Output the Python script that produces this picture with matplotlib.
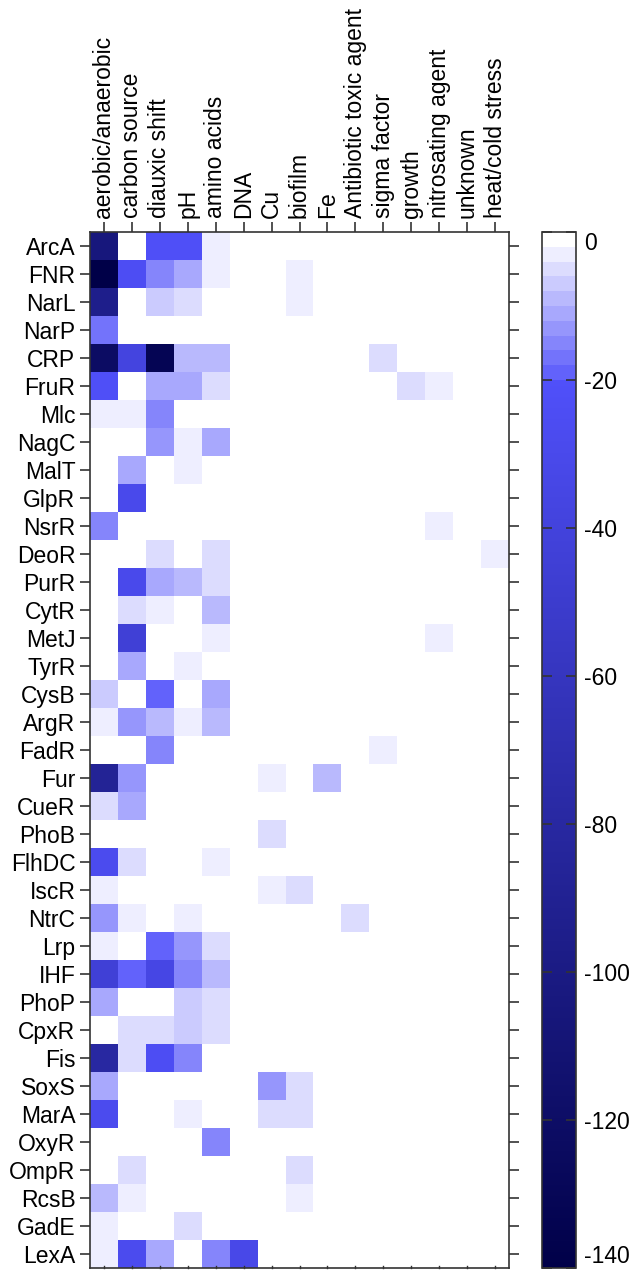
import numpy as np
import matplotlib
matplotlib.use("Agg")
import matplotlib.pyplot as plt
from matplotlib.colors import ListedColormap

plt.rcParams['font.family'] = ['Liberation Sans', 'DejaVu Sans']

regulators = ["ArcA", "FNR", "NarL", "NarP", "CRP", "FruR", "Mlc", "NagC", "MalT", "GlpR",
              "NsrR", "DeoR", "PurR", "CytR", "MetJ", "TyrR", "CysB", "ArgR", "FadR", "Fur",
              "CueR", "PhoB", "FlhDC", "IscR", "NtrC", "Lrp", "IHF", "PhoP", "CpxR", "Fis",
              "SoxS", "MarA", "OxyR", "OmpR", "RcsB", "GadE", "LexA"]

conditions = ["aerobic/anaerobic", "carbon source", "diauxic shift", "pH", "amino acids",
              "DNA", "Cu", "biofilm", "Fe", "Antibiotic toxic agent", "sigma factor",
              "growth", "nitrosating agent", "unknown", "heat/cold stress"]

# columns: aer, carb, diaux, pH, amino, DNA, Cu, biofilm, Fe, Antib, sigma, growth, nitros, unknown, heat
ArcA  = [-105,   0, -22, -22,  -3,   0,  0,  0,  0,  0,  0,  0,  0, 0, 0]
FNR   = [-140, -25, -15, -11,  -3,   0,  0, -3,  0,  0,  0,  0,  0, 0, 0]
NarL  = [ -95,   0,  -7,  -5,   0,   0,  0, -3,  0,  0,  0,  0,  0, 0, 0]
NarP  = [ -17,   0,   0,   0,   0,   0,  0,  0,  0,  0,  0,  0,  0, 0, 0]
CRP   = [-122, -38,-132,  -9,  -9,   0,  0,  0,  0,  0, -5,  0,  0, 0, 0]
FruR  = [ -22,   0, -11, -11,  -5,   0,  0,  0,  0,  0,  0, -5, -3, 0, 0]
Mlc   = [  -3,  -3, -15,   0,   0,   0,  0,  0,  0,  0,  0,  0,  0, 0, 0]
NagC  = [   0,   0, -13,  -3, -11,   0,  0,  0,  0,  0,  0,  0,  0, 0, 0]
MalT  = [   0, -11,   0,  -3,   0,   0,  0,  0,  0,  0,  0,  0,  0, 0, 0]
GlpR  = [   0, -30,   0,   0,   0,   0,  0,  0,  0,  0,  0,  0,  0, 0, 0]
NsrR  = [ -15,   0,   0,   0,   0,   0,  0,  0,  0,  0,  0,  0, -3, 0, 0]
DeoR  = [   0,   0,  -5,   0,  -5,   0,  0,  0,  0,  0,  0,  0,  0, 0, -3]
PurR  = [   0, -30, -11,  -9,  -5,   0,  0,  0,  0,  0,  0,  0,  0, 0, 0]
CytR  = [   0,  -5,  -3,   0,  -9,   0,  0,  0,  0,  0,  0,  0,  0, 0, 0]
MetJ  = [   0, -44,   0,   0,  -3,   0,  0,  0,  0,  0,  0,  0, -3, 0, 0]
TyrR  = [   0, -11,   0,  -3,   0,   0,  0,  0,  0,  0,  0,  0,  0, 0, 0]
CysB  = [  -7,   0, -19,   0, -11,   0,  0,  0,  0,  0,  0,  0,  0, 0, 0]
ArgR  = [  -3, -13,  -9,  -3,  -9,   0,  0,  0,  0,  0,  0,  0,  0, 0, 0]
FadR  = [   0,   0, -15,   0,   0,   0,  0,  0,  0,  0, -3,  0,  0, 0, 0]
Fur   = [ -88, -13,   0,   0,   0,   0, -3,  0, -9,  0,  0,  0,  0, 0, 0]
CueR  = [  -5, -11,   0,   0,   0,   0,  0,  0,  0,  0,  0,  0,  0, 0, 0]
PhoB  = [   0,   0,   0,   0,   0,   0, -5,  0,  0,  0,  0,  0,  0, 0, 0]
FlhDC = [ -28,  -5,   0,   0,  -3,   0,  0,  0,  0,  0,  0,  0,  0, 0, 0]
IscR  = [  -3,   0,   0,   0,   0,   0, -3, -5,  0,  0,  0,  0,  0, 0, 0]
NtrC  = [ -13,  -3,   0,  -3,   0,   0,  0,  0,  0, -5,  0,  0,  0, 0, 0]
Lrp   = [  -3,   0, -19, -13,  -5,   0,  0,  0,  0,  0,  0,  0,  0, 0, 0]
IHF   = [ -44, -19, -35, -15,  -9,   0,  0,  0,  0,  0,  0,  0,  0, 0, 0]
PhoP  = [ -11,   0,   0,  -7,  -5,   0,  0,  0,  0,  0,  0,  0,  0, 0, 0]
CpxR  = [   0,  -5,  -5,  -7,  -5,   0,  0,  0,  0,  0,  0,  0,  0, 0, 0]
Fis   = [ -80,  -5, -25, -15,   0,   0,  0,  0,  0,  0,  0,  0,  0, 0, 0]
SoxS  = [ -11,   0,   0,   0,   0,   0,-13, -5,  0,  0,  0,  0,  0, 0, 0]
MarA  = [ -28,   0,   0,  -3,   0,   0, -5, -5,  0,  0,  0,  0,  0, 0, 0]
OxyR  = [   0,   0,   0,   0, -15,   0,  0,  0,  0,  0,  0,  0,  0, 0, 0]
OmpR  = [   0,  -5,   0,   0,   0,   0,  0, -5,  0,  0,  0,  0,  0, 0, 0]
RcsB  = [  -9,  -3,   0,   0,   0,   0,  0, -3,  0,  0,  0,  0,  0, 0, 0]
GadE  = [  -3,   0,   0,  -5,   0,   0,  0,  0,  0,  0,  0,  0,  0, 0, 0]
LexA  = [  -3, -28, -11,   0, -15, -32,  0,  0,  0,  0,  0,  0,  0, 0, 0]

data = np.array([ArcA, FNR, NarL, NarP, CRP, FruR, Mlc, NagC, MalT, GlpR, NsrR, DeoR,
                 PurR, CytR, MetJ, TyrR, CysB, ArgR, FadR, Fur, CueR, PhoB, FlhDC, IscR,
                 NtrC, Lrp, IHF, PhoP, CpxR, Fis, SoxS, MarA, OxyR, OmpR, RcsB, GadE, LexA],
                dtype=float)

cbar_ticks = [0, -20, -40, -60, -80, -100, -120, -140]

# colormap: stepped white->blue for 0..-20, continuous blue->navy for -20..-140
white = np.array([1.0, 1.0, 1.0])
c20 = np.array([80, 80, 250]) / 255.0
c140 = np.array([0, 0, 72]) / 255.0


def color_at(v):
    if v >= -20:
        k = min(9, int(np.floor(-v / 2.0)))
        t = k / 10.0
        return white + t * (c20 - white)
    t = (-20 - v) / 120.0
    return c20 + t * (c140 - c20)


N = 1400
centers = -140 + (np.arange(N) + 0.5) * 140.0 / N
cmap = ListedColormap([color_at(v) for v in centers])

fig = plt.figure(figsize=(6.31, 12.76), dpi=100)
W, H = 631.0, 1276.0
ax = fig.add_axes([90 / W, (H - 1268) / H, 419 / W, 1036 / H])
cax = fig.add_axes([542 / W, (H - 1268) / H, 34 / W, 1036 / H])

nr, nc = data.shape
mesh = ax.pcolormesh(np.arange(nc + 1), np.arange(nr + 1), data, cmap=cmap,
                     vmin=-140, vmax=0, shading='flat')
ax.set_xlim(0, nc)
ax.set_ylim(nr, 0)

FS = 16.5
ax.set_xticks(np.arange(nc) + 0.5)
ax.set_xticklabels(conditions, rotation=90, fontsize=FS)
ax.xaxis.tick_top()
ax.set_yticks(np.arange(nr) + 0.5)
ax.set_yticklabels(regulators, fontsize=FS)

spine_col = '#333333'
for s in ax.spines.values():
    s.set_linewidth(1.2)
    s.set_color(spine_col)

ax.tick_params(axis='x', which='major', top=True, bottom=False, labeltop=True,
               labelbottom=False, direction='out', length=7, width=1.2,
               color=spine_col, pad=3)
ax.tick_params(axis='y', which='major', left=True, right=True, labelleft=True,
               labelright=False, direction='out', length=7.5, width=1.2,
               color=spine_col, pad=3)
# small inward ticks on the bottom edge
for xi in np.arange(nc) + 0.5:
    ax.plot([xi, xi], [nr, nr - 0.08], color=spine_col, lw=1.0, clip_on=False)

cb = fig.colorbar(mesh, cax=cax, ticks=cbar_ticks)
cb.outline.set_linewidth(1.2)
cb.outline.set_edgecolor(spine_col)
cax.tick_params(axis='y', direction='in', left=True, right=True, length=7,
                width=1.2, color=spine_col, labelsize=FS, pad=6)
cax.set_yticklabels([str(t) for t in cbar_ticks])
labs = cax.get_yticklabels()
for lab, t in zip(labs, cbar_ticks):
    if t == 0:
        lab.set_verticalalignment('top')
    elif t == -140:
        lab.set_verticalalignment('bottom')

fig.savefig("out.png", dpi=100)
